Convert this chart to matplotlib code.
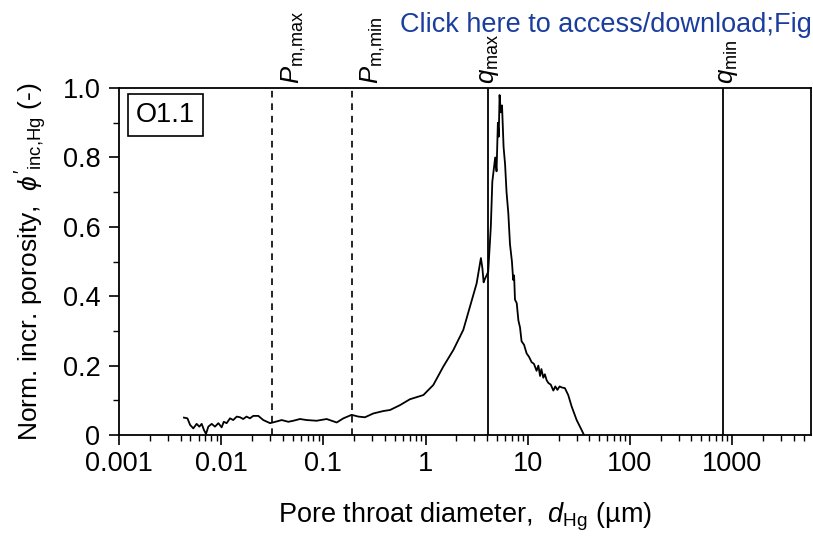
import matplotlib.pyplot as plt
import numpy as np
from matplotlib.ticker import FixedLocator, FixedFormatter, LogLocator, NullFormatter, MultipleLocator

plt.rcParams['font.family'] = ['Liberation Sans', 'DejaVu Sans']
plt.rcParams['mathtext.fontset'] = 'custom'
plt.rcParams['mathtext.rm'] = 'Liberation Sans'
plt.rcParams['mathtext.it'] = 'Liberation Sans:italic'

# pore throat diameter (um) and normalised incremental porosity
d_hg = [0.00432, 0.00467, 0.00496, 0.00533, 0.00575, 0.00611, 0.00644, 0.00679,
        0.0071, 0.00748, 0.00807, 0.00869, 0.00938, 0.0101, 0.0106, 0.0113,
        0.0122, 0.0131, 0.0142, 0.0153, 0.0164, 0.0177, 0.0191, 0.0206,
        0.0231, 0.0258, 0.0301, 0.0349, 0.0391, 0.0454, 0.0508, 0.059,
        0.0687, 0.0859, 0.1076, 0.135, 0.157, 0.189, 0.220, 0.255,
        0.308, 0.386, 0.449, 0.562, 0.703, 0.951, 1.19, 1.49,
        1.87, 2.34, 2.72, 3.16, 3.3, 3.48, 3.6, 3.7,
        3.81, 4.1, 4.35, 4.5, 4.8, 4.95, 5.1, 5.2,
        5.3, 5.45, 5.6, 5.8, 6.0, 6.2, 6.45, 6.7,
        7.0, 7.2, 7.35, 7.5, 7.8, 8.1, 8.4, 8.7,
        9.2, 9.75, 10.3, 10.9, 11.5, 12.2, 12.7, 13.2,
        13.6, 14.2, 14.7, 15.3, 15.9, 16.8, 17.8, 18.6,
        19.5, 20.5, 21.5, 23.1, 24.9, 26.9, 30.1, 33.7, 35.5]
phi_inc = [0.050, 0.048, 0.029, 0.019, 0.032, 0.024, 0.032, 0.014,
           0.003, 0.024, 0.032, 0.024, 0.034, 0.022, 0.038, 0.034,
           0.048, 0.043, 0.053, 0.051, 0.046, 0.053, 0.048, 0.055,
           0.055, 0.043, 0.034, 0.039, 0.043, 0.038, 0.041, 0.046,
           0.043, 0.041, 0.046, 0.036, 0.048, 0.058, 0.053, 0.051,
           0.062, 0.069, 0.072, 0.086, 0.103, 0.115, 0.144, 0.197,
           0.245, 0.303, 0.370, 0.437, 0.47, 0.51, 0.48, 0.44,
           0.45, 0.47, 0.60, 0.73, 0.80, 0.76, 0.90, 0.86,
           0.98, 0.93, 0.95, 0.83, 0.78, 0.70, 0.64, 0.55,
           0.50, 0.447, 0.46, 0.39, 0.38, 0.33, 0.31, 0.27,
           0.26, 0.235, 0.225, 0.21, 0.205, 0.185, 0.20, 0.17,
           0.19, 0.165, 0.175, 0.158, 0.15, 0.145, 0.128, 0.14,
           0.13, 0.14, 0.137, 0.135, 0.115, 0.082, 0.043, 0.014, 0.0]

# characteristic sizes (um)
marker_x = [0.0314, 0.19, 4.05, 813]
marker_lbl = [r'$P_{\mathrm{m{,}max}}$', r'$P_{\mathrm{m{,}min}}$', r'$q_{\mathrm{max}}$', r'$q_{\mathrm{min}}$']
marker_ls = ['--', '--', '-', '-']
lbl_shift = [1.62, 1.62, 1.03, 1.12]

xticks = [0.001, 0.01, 0.1, 1, 10, 100, 1000]
xticklabels = ['0.001', '0.01', '0.1', '1', '10', '100', '1000']
yticks = [0, 0.2, 0.4, 0.6, 0.8, 1.0]
yticklabels = ['0', '0.2', '0.4', '0.6', '0.8', '1.0']

fig = plt.figure(figsize=(8.13, 5.37), dpi=100)
ax = fig.add_axes([0.1464, 0.19, 0.851, 0.646])

ax.plot(d_hg, phi_inc, color='k', lw=1.3)
for x, ls in zip(marker_x, marker_ls):
    if ls == '--':
        ax.axvline(x, color='k', lw=1.2, ls=(0, (4, 3.5)))
    else:
        ax.axvline(x, color='k', lw=1.3)
for x, lbl, s in zip(marker_x, marker_lbl, lbl_shift):
    ax.text(x * s, 1.013, lbl, transform=ax.get_xaxis_transform(), rotation=90,
            ha='center', va='bottom', fontsize=18.5)

ax.set_xscale('log')
ax.set_xlim(0.001, 5900)
ax.set_ylim(0, 1)
ax.xaxis.set_major_locator(FixedLocator(xticks))
ax.xaxis.set_major_formatter(FixedFormatter(xticklabels))
ax.xaxis.set_minor_locator(LogLocator(base=10, subs=np.arange(2, 10)))
ax.xaxis.set_minor_formatter(NullFormatter())
ax.yaxis.set_major_locator(FixedLocator(yticks))
ax.yaxis.set_major_formatter(FixedFormatter(yticklabels))
ax.yaxis.set_minor_locator(MultipleLocator(0.1))

ax.tick_params(which='major', direction='out', length=7.5, width=1.2, labelsize=19.5, pad=4)
ax.tick_params(which='minor', direction='out', length=4, width=1.0)
ax.tick_params(axis='y', which='major', pad=6)
for sp in ax.spines.values():
    sp.set_linewidth(1.3)

ax.set_xlabel(r'Pore throat diameter,  $d_{\mathrm{Hg}}$ (µm)', fontsize=19.5, labelpad=17)
ax.set_ylabel(r"Norm. incr. porosity,  $\phi'_{\mathrm{inc{,}Hg}}$ (-)", fontsize=19, labelpad=10)

ax.text(0.024, 0.96, 'O1.1', transform=ax.transAxes, ha='left', va='top', fontsize=19.5,
        bbox=dict(boxstyle='square,pad=0.3', fc='white', ec='k', lw=1.2))

fig.text(400 / 813, 1 - 32 / 537, 'Click here to access/download;Figure;Fig', color='#1a3d9e',
         fontsize=19.5, ha='left', va='baseline')

fig.savefig('out.png', dpi=100)
